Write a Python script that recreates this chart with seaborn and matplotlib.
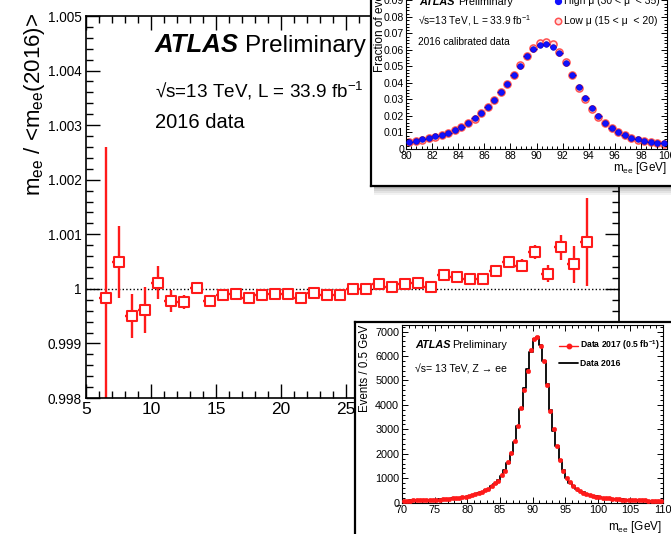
import numpy as np
import pandas as pd
import matplotlib
matplotlib.use('Agg')
import matplotlib.pyplot as plt
import seaborn as sns
from matplotlib.patches import Rectangle
from matplotlib.ticker import MultipleLocator, FuncFormatter

# ---------------- data: main panel ----------------
mu_bins = [6.5, 7.5, 8.5, 9.5, 10.5, 11.5, 12.5, 13.5, 14.5, 15.5, 16.5, 17.5,
           18.5, 19.5, 20.5, 21.5, 22.5, 23.5, 24.5, 25.5, 26.5, 27.5, 28.5,
           29.5, 30.5, 31.5, 32.5, 33.5, 34.5, 35.5, 36.5, 37.5, 38.5, 39.5,
           40.5, 41.5, 42.5, 43.5]
mee_ratio = [0.99984, 1.00050, 0.99950, 0.99961, 1.000115, 0.99977, 0.99976,
             1.00001, 0.99977, 0.99988, 0.99990, 0.99983, 0.99988, 0.99990,
             0.99991, 0.99984, 0.99992, 0.99988, 0.99988, 0.99999, 0.99999,
             1.00008, 1.00004, 1.00009, 1.00010, 1.00003, 1.00026, 1.00021,
             1.00018, 1.00018, 1.00033, 1.00050, 1.00042, 1.00067, 1.00028,
             1.00076, 1.00045, 1.00086]
mee_err = [0.00276, 0.00066, 0.00040, 0.00042, 0.00030, 0.00020, 0.00012,
           0.00011, 0.00008, 0.00008, 0.00008, 0.00008, 0.00008, 0.00008,
           0.00008, 0.00008, 0.00008, 0.00008, 0.00008, 0.00008, 0.00008,
           0.00008, 0.00008, 0.00008, 0.00008, 0.00008, 0.00010, 0.00010,
           0.00009, 0.00009, 0.00010, 0.00011, 0.00012, 0.00013, 0.00016,
           0.00023, 0.00034, 0.00080]
y_ticks_main = [0.998, 0.999, 1.000, 1.001, 1.002, 1.003, 1.004, 1.005]
x_ticks_main = [5, 10, 15, 20, 25, 30, 35, 40, 45]

# ---------------- data: inset 1 (fraction of events) ----------------
mee_centers_1 = [80.25, 80.75, 81.25, 81.75, 82.25, 82.75, 83.25, 83.75, 84.25,
                 84.75, 85.25, 85.75, 86.25, 86.75, 87.25, 87.75, 88.25, 88.75,
                 89.25, 89.75, 90.25, 90.75, 91.25, 91.75, 92.25, 92.75, 93.25,
                 93.75, 94.25, 94.75, 95.25, 95.75, 96.25, 96.75, 97.25, 97.75,
                 98.25, 98.75, 99.25, 99.75]
frac_high_mu = [0.0045, 0.0051, 0.0059, 0.0067, 0.0077, 0.0087, 0.0099, 0.0116,
                0.0134, 0.0157, 0.0185, 0.0218, 0.0254, 0.0297, 0.0343, 0.0394,
                0.0449, 0.0506, 0.0561, 0.0608, 0.0630, 0.0638, 0.0620, 0.0579,
                0.0522, 0.0449, 0.0374, 0.0307, 0.0250, 0.0197, 0.0159, 0.0128,
                0.0104, 0.0085, 0.0069, 0.0059, 0.0049, 0.0043, 0.0038, 0.0035]
frac_low_mu = [0.0043, 0.0049, 0.0057, 0.0065, 0.0075, 0.0085, 0.0097, 0.0113,
               0.0131, 0.0155, 0.0183, 0.0216, 0.0253, 0.0296, 0.0343, 0.0395,
               0.0451, 0.0510, 0.0566, 0.0615, 0.0640, 0.0650, 0.0634, 0.0590,
               0.0528, 0.0450, 0.0372, 0.0302, 0.0244, 0.0193, 0.0156, 0.0125,
               0.0101, 0.0083, 0.0067, 0.0057, 0.0047, 0.0041, 0.0036, 0.0033]

# ---------------- data: inset 2 (events / 0.5 GeV) ----------------
mee_edges_2 = [70.0 + 0.5 * i for i in range(81)]
mee_centers_2 = [70.25 + 0.5 * i for i in range(80)]
events_2016 = [85, 88, 92, 95, 98, 102, 106, 110, 115, 120,
               126, 132, 140, 150, 162, 175, 190, 208, 228, 252,
               278, 308, 345, 390, 440, 500, 575, 665, 780, 920,
               1100, 1330, 1620, 2000, 2500, 3150, 3850, 4700, 5450, 6150,
               6700, 6780, 6450, 5800, 4850, 3800, 2950, 2300, 1750, 1320,
               1020, 820, 680, 570, 485, 420, 365, 320, 285, 255,
               230, 210, 192, 176, 162, 150, 140, 131, 123, 116,
               110, 104, 99, 94, 90, 86, 82, 79, 76, 73]
events_2017 = [80, 86, 90, 96, 100, 100, 108, 112, 112, 122,
               124, 130, 145, 148, 160, 180, 188, 205, 232, 248,
               282, 300, 350, 385, 445, 505, 565, 680, 790, 900,
               1120, 1300, 1650, 2050, 2520, 3120, 3880, 4600, 5400, 6250,
               6680, 6760, 6400, 5780, 4830, 3750, 3000, 2330, 1760, 1300,
               1000, 830, 670, 560, 490, 410, 370, 325, 280, 250,
               235, 205, 190, 180, 160, 148, 142, 128, 122, 118,
               108, 102, 100, 92, 92, 84, 80, 80, 74, 72]

# ---------------- style ----------------
sns.set_theme(style='ticks')
plt.rcParams['font.family'] = ['Liberation Sans', 'DejaVu Sans']
plt.rcParams['mathtext.fontset'] = 'custom'
plt.rcParams['mathtext.rm'] = 'Liberation Sans'
plt.rcParams['mathtext.it'] = 'Liberation Sans:italic'
plt.rcParams['mathtext.bf'] = 'Liberation Sans:bold'
plt.rcParams['axes.edgecolor'] = 'black'
plt.rcParams['axes.axisbelow'] = False
plt.rcParams['xtick.color'] = 'black'
plt.rcParams['ytick.color'] = 'black'
plt.rcParams['text.color'] = 'black'

RED = '#ff1a1a'
W, H = 671, 534
fig = plt.figure(figsize=(W / 100, H / 100), dpi=100)
fig.patch.set_facecolor('white')


def fx(x):
    return x / W


def fy(y):
    return 1 - y / H


def rect(x0, y0, x1, y1):
    return [fx(x0), fy(y1), fx(x1) - fx(x0), fy(y0) - fy(y1)]


def gfmt(v, pos):
    return '%g' % round(v, 6)


def overlay(z):
    o = fig.add_axes([0, 0, 1, 1])
    o.set_zorder(z)
    o.set_xlim(0, W)
    o.set_ylim(H, 0)
    o.patch.set_alpha(0)
    o.axis('off')
    return o


def style_ticks(a, major, minor, width, lsize_x, lsize_y, pad, top=True):
    a.tick_params(which='both', direction='in', bottom=True, left=True,
                  top=top, right=True, width=width, color='black', pad=pad)
    a.tick_params(which='major', length=major)
    a.tick_params(which='minor', length=minor)
    a.tick_params(axis='x', labelsize=lsize_x)
    a.tick_params(axis='y', labelsize=lsize_y)
    a.set_xlabel('')
    a.set_ylabel('')


# ================= main panel =================
ax = fig.add_axes(rect(86, 16, 619, 398))
ax.axhline(1.0, color='black', ls=(0, (1, 1.6)), lw=1.0, zorder=1)
ax.errorbar(mu_bins, mee_ratio, yerr=mee_err, xerr=0.5, fmt='none',
            ecolor=RED, elinewidth=1.7, capsize=0, zorder=2)
sns.scatterplot(x=mu_bins, y=mee_ratio, marker='s', s=46,
                color='white', edgecolor=RED, linewidth=1.5, zorder=3, ax=ax)
ax.set_xlim(5, 46)
ax.set_ylim(0.998, 1.005)
ax.set_xticks(x_ticks_main)
ax.set_yticks(y_ticks_main)
ax.xaxis.set_minor_locator(MultipleLocator(1))
ax.yaxis.set_minor_locator(MultipleLocator(0.0002))
ax.yaxis.set_major_formatter(FuncFormatter(gfmt))
style_ticks(ax, 10, 5, 1.0, 12.5, 9.8, 3)
for sp in ax.spines.values():
    sp.set_linewidth(1.2)

fig.text(fx(35), fy(13), 'm$_{\\mathregular{ee}}$ / <m$_{\\mathregular{ee}}$(2016)>',
         rotation=90, fontsize=16, ha='center', va='top')
fig.text(fx(155), fy(52), 'ATLAS', fontsize=18.5, weight='bold', style='italic',
         va='baseline')
fig.text(fx(245), fy(52), 'Preliminary', fontsize=17.5, va='baseline')
fig.text(fx(155), fy(97), '\u221as=13 TeV, L = 33.9 fb$^{\\mathregular{-1}}$',
         fontsize=13.6, va='baseline')
fig.text(fx(155), fy(128), '2016 data', fontsize=14.5, va='baseline')

# ================= inset 1 (top right), kept inside the figure =================
shadow = overlay(4)
for s, a in [(9, 0.05), (7, 0.06), (5, 0.07), (3, 0.08), (1.5, 0.08)]:
    shadow.add_patch(Rectangle((374, 0), 297, 186 + s, facecolor='black',
                               edgecolor='none', alpha=a))
box1 = fig.add_axes(rect(371, 0, 671, 186))
box1.set_zorder(5)
box1.set_xticks([])
box1.set_yticks([])
box1.set_facecolor('white')
for name, sp in box1.spines.items():
    sp.set_linewidth(1.6)
    sp.set_visible(name in ('left', 'bottom'))

ax1 = fig.add_axes(rect(406, 0, 667, 149))
ax1.set_zorder(6)
ax1.patch.set_alpha(0)
sns.scatterplot(x=mee_centers_1, y=frac_low_mu, marker='o', s=26, color='#ffe0e0',
                edgecolor='#ff5050', linewidth=1.1, zorder=2, ax=ax1)
ax1.errorbar(mee_centers_1, frac_high_mu, xerr=0.25, fmt='none', ecolor='#0000e0',
             elinewidth=1.0, capsize=0, zorder=3)
sns.scatterplot(x=mee_centers_1, y=frac_high_mu, marker='o', s=17, color='#1010ff',
                edgecolor='#0000c0', linewidth=0.4, zorder=4, ax=ax1)
ax1.set_xlim(80, 100)
ax1.set_ylim(0, 0.0903)
ax1.xaxis.set_major_locator(MultipleLocator(2))
ax1.xaxis.set_minor_locator(MultipleLocator(0.4))
ax1.yaxis.set_major_locator(MultipleLocator(0.01))
ax1.yaxis.set_minor_locator(MultipleLocator(0.002))
ax1.yaxis.set_major_formatter(FuncFormatter(gfmt))
ax1.xaxis.set_major_formatter(FuncFormatter(gfmt))
style_ticks(ax1, 4, 2, 0.7, 7.6, 7.6, 1.5, top=False)
for name, sp in ax1.spines.items():
    sp.set_linewidth(0.8)
    sp.set_visible(name != 'top')

fig.text(fx(380), fy(72), 'Fraction of events', rotation=90, fontsize=8.5,
         ha='center', va='bottom', zorder=8)
fig.text(fx(667), fy(171), 'm$_{\\mathregular{ee}}$ [GeV]', fontsize=8.5,
         ha='right', va='baseline', zorder=8)
fig.text(fx(419), fy(5), 'ATLAS', fontsize=7.8, weight='bold', style='italic',
         va='baseline', zorder=8)
fig.text(fx(458), fy(5), 'Preliminary', fontsize=7.8, va='baseline', zorder=8)
fig.text(fx(418), fy(25), '\u221as=13 TeV, L = 33.9 fb$^{\\mathregular{-1}}$',
         fontsize=7.3, va='baseline', zorder=8)
fig.text(fx(418), fy(45), '2016 calibrated data', fontsize=7.3, va='baseline',
         zorder=8)
fig.text(fx(564), fy(3.5), 'High \u03bc (30 < \u03bc  < 35)', fontsize=7.5,
         va='baseline', zorder=8)
fig.text(fx(564), fy(24), 'Low \u03bc (15 < \u03bc  < 20)', fontsize=7.5,
         va='baseline', zorder=8)

# ================= inset 2 (bottom right), kept inside the figure =================
box2 = fig.add_axes(rect(354.5, 321.5, 671, 534))
box2.set_zorder(5)
box2.set_xticks([])
box2.set_yticks([])
box2.set_facecolor('white')
for name, sp in box2.spines.items():
    sp.set_linewidth(1.6)
    sp.set_visible(name in ('left', 'top'))

ax2 = fig.add_axes(rect(402, 325, 663, 502.7))
ax2.set_zorder(6)
ax2.patch.set_alpha(0)
sns.histplot(x=mee_centers_2, weights=events_2016, bins=mee_edges_2,
             element='step', fill=False, color='black', linewidth=1.3, ax=ax2)
ax2.errorbar(mee_centers_2, events_2017, xerr=0.25, fmt='none', ecolor=RED,
             elinewidth=0.9, capsize=0, zorder=3)
sns.scatterplot(x=mee_centers_2, y=events_2017, marker='o', s=11, color=RED,
                edgecolor=RED, linewidth=0.3, zorder=4, ax=ax2)
ax2.set_xlim(70, 110)
ax2.set_ylim(0, 7270)
ax2.xaxis.set_major_locator(MultipleLocator(5))
ax2.xaxis.set_minor_locator(MultipleLocator(1))
ax2.yaxis.set_major_locator(MultipleLocator(1000))
ax2.yaxis.set_minor_locator(MultipleLocator(200))
ax2.xaxis.set_major_formatter(FuncFormatter(gfmt))
ax2.yaxis.set_major_formatter(FuncFormatter(gfmt))
style_ticks(ax2, 4.3, 2.2, 0.7, 7.8, 7.8, 2)
for sp in ax2.spines.values():
    sp.set_linewidth(0.8)

fig.text(fx(365), fy(325), 'Events / 0.5 GeV', rotation=90, fontsize=8.3,
         ha='center', va='top', zorder=8)
fig.text(fx(662), fy(530), 'm$_{\\mathregular{ee}}$ [GeV]', fontsize=8.5,
         ha='right', va='baseline', zorder=8)
fig.text(fx(415), fy(348.5), 'ATLAS', fontsize=7.8, weight='bold', style='italic',
         va='baseline', zorder=8)
fig.text(fx(452), fy(348.5), 'Preliminary', fontsize=7.8, va='baseline', zorder=8)
fig.text(fx(415), fy(373), '\u221as= 13 TeV, Z \u2192 ee', fontsize=7.6,
         va='baseline', zorder=8)
fig.text(fx(580), fy(348.5), 'Data 2017 (0.5 fb$^{\\mathregular{-1}}$)', fontsize=6.2,
         weight='bold', va='baseline', zorder=8)
fig.text(fx(580), fy(366), 'Data 2016', fontsize=6.2, weight='bold',
         va='baseline', zorder=8)

# legend symbols drawn in an overlay in pixel coordinates
leg = overlay(7)
leg.plot([558], [0.5], marker='o', ms=4.2, color='#1010ff', ls='none')
leg.plot([558], [20.7], marker='o', ms=4.6, color='#ffe0e0', mec='#ff5050',
         mew=1.1, ls='none')
leg.plot([559, 578], [345.7, 345.7], color=RED, lw=1.0)
leg.plot([568.5], [345.7], marker='o', ms=3.2, color=RED, ls='none')
leg.plot([559, 578], [363.3, 363.3], color='black', lw=1.3)

fig.savefig('out.png', dpi=100)
